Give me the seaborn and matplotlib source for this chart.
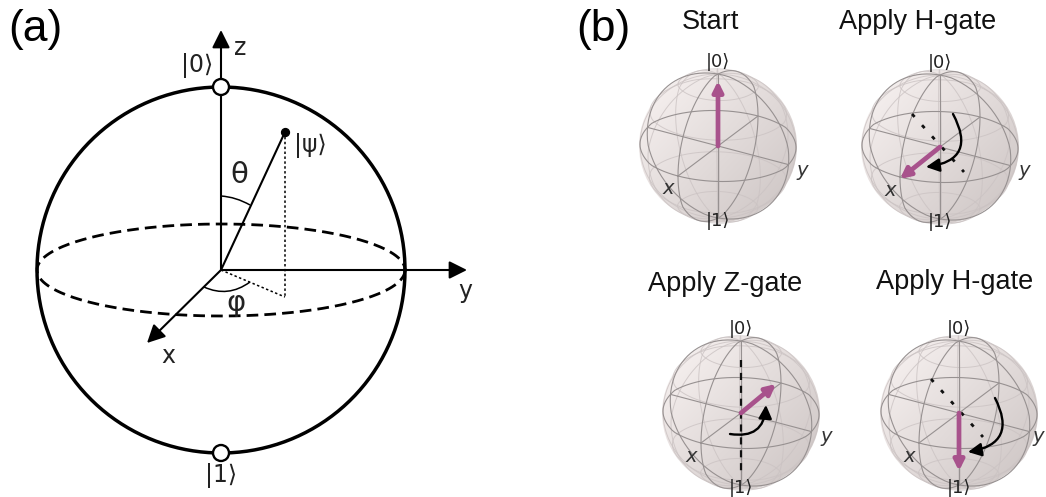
import numpy as np
import matplotlib
matplotlib.use("Agg")
import matplotlib.pyplot as plt
from matplotlib.patches import Circle, Ellipse, FancyArrowPatch, PathPatch
from matplotlib.path import Path
import seaborn as sns

# panel (a), in image pixels
big_center = [221, 270]
big_radius = [184, 183]
equator_ry = 46
origin = [221, 270]
z_tip = [221, 30]
y_tip = [467, 270]
x_tip = [147, 343]
psi_point = [285, 132]
psi_foot = [285, 297]
theta_arc = [[221, 196], [236, 197], [250, 205]]
phi_arc = [[204, 287], [228, 298], [250, 282]]
pole_points = [[221, 87], [221, 453]]
big_labels = ["|0⟩", "|1⟩", "z", "x", "y", "|ψ⟩", "θ", "φ"]
big_label_x = [197, 221, 240, 168, 465, 310, 239, 236]
big_label_y = [65, 476, 48, 356, 291, 146, 175, 303]
big_label_size = [17, 17, 17, 17, 17, 17, 21, 21]

# panel (b)
sphere_titles = ["Start", "Apply H-gate", "Apply Z-gate", "Apply H-gate"]
title_x = [710, 918, 725, 955]
title_y = [22, 22, 284, 282]
center_x = [718, 940, 741, 959]
center_y = [146, 147, 413, 413]
y_label_dx = [84, 84, 85, 79]
# state vector ends relative to the sphere centre
state_dx = [0, -40, 35, 0]
state_dy = [-65, 32, -29, 58]
# curved arrows, start and end relative to the centre (None for Start)
curve_start = [None, [13, -33], [-11, 21], [36, -15]]
curve_end = [None, [-14, 20], [25, -8], [9, 39]]
curve_rad = [0, -0.72, 0.55, -0.68]
# dashed guides
guide_start = [None, [-28, -33], [0, -53], [-28, -34]]
guide_end = [None, [24, 25], [0, 61], [24, 24]]
guide_width = [0, 2, 1.6, 2]
guide_dash = [None, (1.4, 4), (3.2, 2.6), (1.4, 4)]

# projected axes of the small spheres
axis_x = [-40, 30]
axis_y = [72, 19]
axis_z = [0, -73]

pink = "#a8528c"
ink = "#111111"
frame_gray = "#979191"
wire_gray = "#cbc3c3"

sns.set_theme(style="white")
plt.rcParams["font.family"] = ["DejaVu Sans"]

fig = plt.figure(figsize=(10.46, 4.97), dpi=100)
ax = fig.add_axes([0, 0, 1, 1])


def draw(x, y, **kw):
    sns.lineplot(x=np.asarray(x), y=np.asarray(y), sort=False, estimator=None,
                 ax=ax, legend=False, **kw)


def arrow(a, b, lw=1.5, color="black", scale=20, style="-|>", rad=0, z=5):
    ax.add_patch(FancyArrowPatch(a, b, arrowstyle=style, mutation_scale=scale, lw=lw,
                                 color=color, shrinkA=0, shrinkB=0, zorder=z,
                                 connectionstyle=f"arc3,rad={rad}"))


def project(cx, cy, a, b, c):
    px = a * axis_x[0] + b * axis_y[0] + c * axis_z[0]
    py = a * axis_x[1] + b * axis_y[1] + c * axis_z[1]
    # pull the outer part in a little so the circles stay inside the outline
    r = np.hypot(px, py)
    k = np.where(r > 70, (70 + (r - 70) * 0.65) / np.maximum(r, 1e-6), 1.0)
    return cx + px * k, cy + py * k


def small_sphere(i):
    cx, cy = center_x[i], center_y[i]
    t = np.linspace(0, 2 * np.pi, 90)
    frame = [(np.cos(t), np.sin(t), 0 * t), (np.cos(t), 0 * t, np.sin(t)),
             (0 * t, np.cos(t), np.sin(t))]

    # shaded body
    yy, xx = np.mgrid[-1:1:160j, -1:1:160j]
    shade = np.clip(0.45 + 0.3 * xx + 0.28 * yy, 0, 1)[..., None]
    rgb = (np.array([246, 240, 239]) * (1 - shade) + np.array([203, 195, 194]) * shade) / 255
    im = ax.imshow(rgb, extent=[cx - 82, cx + 82, cy + 82, cy - 82], zorder=1, aspect="auto")
    im.set_clip_path(Ellipse((cx, cy), 158, 153, transform=ax.transData))

    # wireframe
    for lat in np.radians([-60, -30, 30, 60]):
        px, py = project(cx, cy, np.cos(lat) * np.cos(t), np.cos(lat) * np.sin(t),
                         np.sin(lat) * np.ones_like(t))
        draw(px, py, color=wire_gray, lw=0.7, alpha=0.8, zorder=2)
    for lon in np.radians([30, 60, 120, 150]):
        px, py = project(cx, cy, np.cos(t) * np.cos(lon), np.cos(t) * np.sin(lon), np.sin(t))
        draw(px, py, color=wire_gray, lw=0.7, alpha=0.8, zorder=2)
    # frame circles and axes
    for a, b, c in frame:
        px, py = project(cx, cy, a, b, c)
        draw(px, py, color=frame_gray, lw=0.8, zorder=3)
    for a, b, c in [(1, 0, 0), (0, 1, 0), (0, 0, 1)]:
        px, py = project(cx, cy, np.array([-a, a]), np.array([-b, b]), np.array([-c, c]))
        draw(px, py, color=frame_gray, lw=0.8, zorder=3)

    # guides and arrows
    if guide_start[i] is not None:
        draw([cx + guide_start[i][0], cx + guide_end[i][0]],
             [cy + guide_start[i][1], cy + guide_end[i][1]],
             color=ink, lw=guide_width[i], linestyle=(0, guide_dash[i]), zorder=4)
    arrow((cx, cy), (cx + state_dx[i], cy + state_dy[i]), lw=3.4, color=pink, scale=15, z=5)
    if curve_start[i] is not None:
        arrow((cx + curve_start[i][0], cy + curve_start[i][1]),
              (cx + curve_end[i][0], cy + curve_end[i][1]),
              lw=1.7, color="black", scale=20, rad=curve_rad[i], z=6)

    # labels
    ax.text(cx, cy - 84, "|0⟩", fontsize=13, color="#222222", ha="center", va="center", zorder=7)
    ax.text(cx, cy + 75, "|1⟩", fontsize=13, color="#222222", ha="center", va="center", zorder=7)
    ax.text(cx - 50, cy + 43, "x", fontsize=14, style="italic", color="#333333",
            ha="center", va="center", zorder=7)
    ax.text(cx + y_label_dx[i], cy + 24, "y", fontsize=14, style="italic", color="#333333",
            ha="center", va="center", zorder=7)


# panel (a)
t = np.linspace(0, 2 * np.pi, 300)
draw(big_center[0] + big_radius[0] * np.cos(t), big_center[1] + big_radius[1] * np.sin(t),
     color="black", lw=2.5, zorder=3)
draw(big_center[0] + big_radius[0] * np.cos(t), big_center[1] + equator_ry * np.sin(t),
     color="black", lw=2, linestyle=(0, (4.2, 2.2)), zorder=3)
arrow(origin, z_tip, lw=1.5, scale=27)
arrow(origin, y_tip, lw=1.5, scale=27)
arrow(origin, x_tip, lw=1.5, scale=27)
draw([origin[0], psi_point[0]], [origin[1], psi_point[1]], color="black", lw=1.5, zorder=4)
draw([psi_point[0], psi_foot[0]], [psi_point[1], psi_foot[1]], color="black", lw=1.1,
     linestyle=(0, (1.6, 1.6)), zorder=4)
draw([origin[0], psi_foot[0]], [origin[1], psi_foot[1]], color="black", lw=1.1,
     linestyle=(0, (1.6, 1.6)), zorder=4)
for arc in (theta_arc, phi_arc):
    ax.add_patch(PathPatch(Path(arc, [Path.MOVETO, Path.CURVE3, Path.CURVE3]),
                           fc="none", ec="black", lw=1.1, zorder=4))
ax.scatter([psi_point[0]], [psi_point[1]], s=32, color="black", zorder=5)
for p in pole_points:
    ax.add_patch(Circle(p, 8, fc="white", ec="black", lw=1.7, zorder=6))
for s, lx, ly, fs in zip(big_labels, big_label_x, big_label_y, big_label_size):
    ax.text(lx, ly, s, fontsize=fs, color="#222222", ha="center", va="center", zorder=7)

# panel letters and titles
ax.text(35, 29, "(a)", fontsize=32, family="Liberation Sans", ha="center", va="center", color="black")
ax.text(603, 29, "(b)", fontsize=32, family="Liberation Sans", ha="center", va="center", color="black")
for s, lx, ly in zip(sphere_titles, title_x, title_y):
    ax.text(lx, ly, s, fontsize=19.5, family="Liberation Sans", ha="center", va="center", color="#111111")

for i in range(len(center_x)):
    small_sphere(i)

ax.set_xlim(0, 1046)
ax.set_ylim(497, 0)
ax.set_aspect("auto")
ax.axis("off")
fig.savefig("out.png", dpi=100)
